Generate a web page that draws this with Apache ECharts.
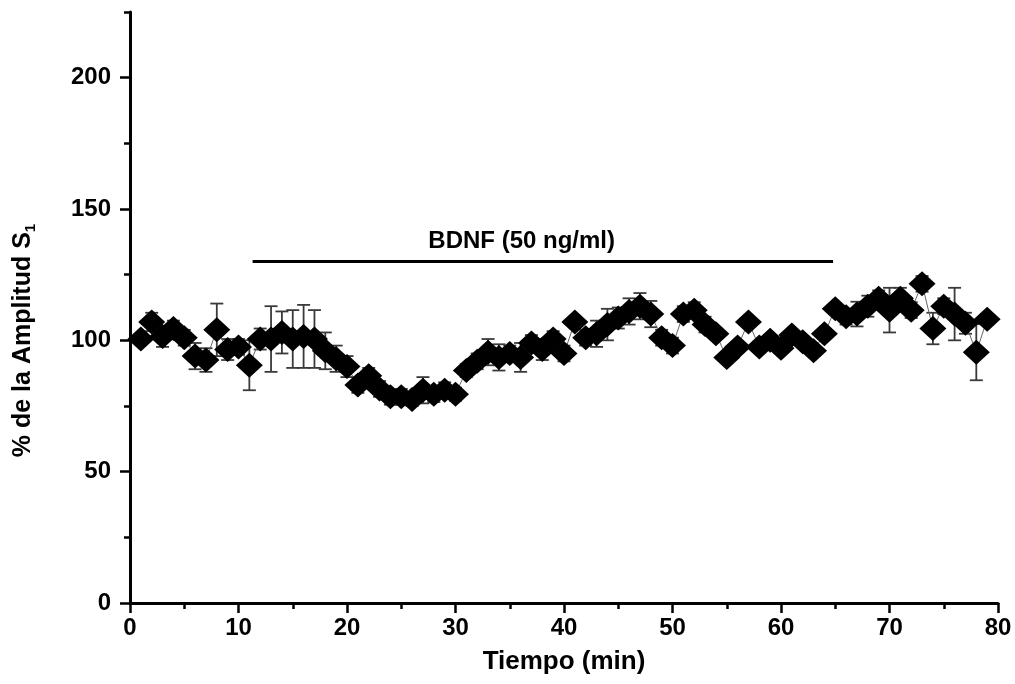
<!DOCTYPE html>
<html>
<head>
<meta charset="utf-8">
<script src="https://cdn.jsdelivr.net/npm/echarts@6/dist/echarts.min.js"></script>
<style>
html,body{margin:0;padding:0;background:#fff;}
#chart{width:1015px;height:684px;}
</style>
</head>
<body>
<div id="chart"></div>
<script>
// ---- data ----
const times = [1,2,3,4,5,6,7,8,9,10,11,12,13,14,15,16,17,18,19,20,21,22,23,24,25,26,27,28,29,30,31,32,33,34,35,36,37,38,39,40,41,42,43,44,45,46,47,48,49,50,51,52,53,54,55,56,57,58,59,60,61,62,63,64,65,66,67,68,69,70,71,72,73,74,75,76,77,78,79];
const means = [100.5,107,101.5,104.5,101,94,92.5,104,96.5,97.5,90.5,100.5,100.5,103,100.5,101.5,100.5,96,93,90,83,86.5,81.5,78.5,78.5,77.5,81,79.5,81,79.5,88.5,92,95.5,93.5,95,93.5,99,96.5,100.5,95,107,101,102.5,106,108.5,111,113,110,101,98,110,111.5,106,102.5,93.5,97.5,107,97.5,100,97,102,99.5,96,102.5,112,109,110,113,116,111.5,116,111.5,121.5,104.5,113,110,106.5,95.5,108];
const sems = [2,3.5,4,3,3,5,4.5,10,4,3,9.5,4,12.5,8,11,12,11,7,5,4,3,3,3,3,3,2.5,5,3,3,2.5,2.5,3,5,5,3,5.5,3,4,3,3,2,3,5,6,4,5,5,5,3,3,3,3,3,2,2,2,2,2,2,2,2,2,2,2,2,3,4.7,4,3,8.5,4,3,3,6,3,10,4,10.7,2];
const xTicks = [0,10,20,30,40,50,60,70,80];
const yTicks = [0,50,100,150,200];
const yMinorTicks = [25,75,125,175,225];
const bdnfStart = 11.3, bdnfEnd = 64.8, bdnfLevel = 130;
const bdnfLabel = 'BDNF (50 ng/ml)';
const bdnfLabelPos = [36.1, 137.7];

const FONT = 'Arial, "Liberation Sans", sans-serif';
const chart = echarts.init(document.getElementById('chart'));
const pts = times.map((t,i)=>[t, means[i]]);
const errs = times.map((t,i)=>[t, means[i], sems[i]]);

chart.setOption({
  animation:false,
  backgroundColor:'#fff',
  grid:{left:130, right:17, top:12, bottom:81, containLabel:false},
  xAxis:{
    type:'value', min:0, max:80, interval:10,
    name:'Tiempo (min)', nameLocation:'middle', nameGap:46,
    nameTextStyle:{fontFamily:FONT, fontWeight:'bold', fontSize:26, color:'#000'},
    axisLine:{show:true, onZero:false, lineStyle:{color:'#000', width:3}},
    axisTick:{show:true, inside:false, length:10, lineStyle:{color:'#000', width:2.5}},
    minorTick:{show:true, splitNumber:2, length:6, lineStyle:{color:'#000', width:2.5}},
    axisLabel:{show:true, margin:13, fontFamily:FONT, fontWeight:'bold', fontSize:24, color:'#000',
      customValues:xTicks},
    splitLine:{show:false}, minorSplitLine:{show:false}
  },
  yAxis:[{
    type:'value', min:0, max:225,
    name:'{a|% de la Amplitud S}{s|1}', nameLocation:'middle', nameGap:92, nameRotate:90,
    nameTextStyle:{fontFamily:FONT, fontWeight:'bold', fontSize:25, color:'#000', padding:[0,66,0,0],
      rich:{a:{fontFamily:FONT, fontWeight:'bold', fontSize:25, color:'#000'},
            s:{fontFamily:FONT, fontWeight:'bold', fontSize:15, color:'#000', padding:[14,0,0,0]}}},
    axisLine:{show:true, onZero:false, lineStyle:{color:'#000', width:3}},
    axisTick:{show:true, inside:false, length:10, lineStyle:{color:'#000', width:2.5}, customValues:yTicks},
    axisLabel:{show:true, margin:19, fontFamily:FONT, fontWeight:'bold', fontSize:24, color:'#000', customValues:yTicks},
    splitLine:{show:false}
  },{
    type:'value', min:0, max:225, position:'left', offset:0,
    axisLine:{show:false},
    axisTick:{show:true, inside:false, length:6, lineStyle:{color:'#000', width:2.5}, customValues:yMinorTicks},
    axisLabel:{show:false},
    splitLine:{show:false}
  }],
  series:[
    {
      type:'custom', name:'sem', z:2,
      data:errs,
      renderItem:function(params, api){
        const x = api.value(0), m = api.value(1), s = api.value(2);
        const hi = api.coord([x, m+s]);
        const lo = api.coord([x, m-s]);
        const h = 6.5;
        const st = {stroke:'#3a3a3a', lineWidth:1.8};
        return {type:'group', children:[
          {type:'line', shape:{x1:hi[0], y1:hi[1], x2:lo[0], y2:lo[1]}, style:st},
          {type:'line', shape:{x1:hi[0]-h, y1:hi[1], x2:hi[0]+h, y2:hi[1]}, style:st},
          {type:'line', shape:{x1:lo[0]-h, y1:lo[1], x2:lo[0]+h, y2:lo[1]}, style:st}
        ]};
      }
    },
    {
      type:'line', name:'link', z:3, data:pts, showSymbol:false, symbol:'none',
      lineStyle:{color:'#666', width:1}
    },
    {
      type:'scatter', name:'mean', z:4, data:pts,
      symbol:'diamond', symbolSize:[27,25],
      itemStyle:{color:'#000', opacity:1}
    },
    {
      type:'line', name:'bdnf', z:4, data:[[bdnfStart,bdnfLevel],[bdnfEnd,bdnfLevel]],
      showSymbol:false, symbol:'none', lineStyle:{color:'#000', width:3}
    },
    {
      type:'scatter', name:'bdnfText', z:5, data:[bdnfLabelPos], symbolSize:1,
      itemStyle:{color:'transparent', opacity:1},
      label:{show:true, position:'inside', formatter:bdnfLabel, fontFamily:FONT, fontWeight:'bold', fontSize:24, color:'#000', opacity:1}
    }
  ]
});
</script>
</body>
</html>
